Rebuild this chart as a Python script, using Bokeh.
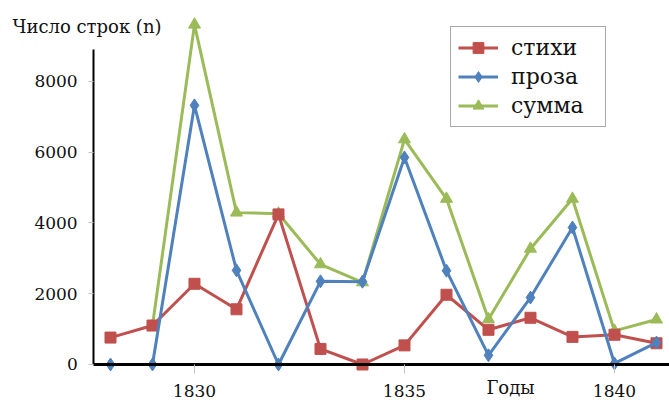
import numpy as np
from bokeh.plotting import figure
from bokeh.models import Range1d, FixedTicker, Label, Legend, LegendItem
from bokeh.embed import file_html
from bokeh.resources import INLINE

# ---- data ----
years = list(range(1828, 1842))
verse = [760, 1100, 2280, 1560, 4240, 440, 0, 540, 1970, 980, 1320, 780, 840, 600]
prose = [0, 0, 7320, 2660, 0, 2350, 2340, 5850, 2650, 260, 1890, 3870, 30, 620]
total = [None, 1100, 9600, 4290, 4260, 2830, 2320, 6360, 4680, 1280, 3270, 4680, 950, 1270]
series_names = ["стихи", "проза", "сумма"]
x_ticks = [1830, 1835, 1840]
y_ticks = [0, 2000, 4000, 6000, 8000]
y_title = "Число строк (n)"
x_title = "Годы"

# axis extents (where the drawn axis lines start / stop)
x_axis_start, x_axis_end = 1827.6, 1841.31
y_axis_top = 8900

FONT = "DejaVu Serif"
RED, BLUE, GREEN = "#C0504D", "#4F81BD", "#9BBB59"

# frame covers the whole canvas; axes are placed with fixed_location
p = figure(width=669, height=400, output_backend="svg", toolbar_location=None,
           x_range=Range1d(1825.381, x_axis_end), y_range=Range1d(-1017, 10282),
           min_border=0, min_border_left=0, min_border_right=0,
           min_border_top=0, min_border_bottom=0)
p.outline_line_color = None
p.xgrid.visible = False
p.ygrid.visible = False
p.background_fill_color = "white"
p.border_fill_color = "white"

tot = np.array([np.nan if v is None else v for v in total], dtype=float)

g_line = p.line(years, tot, line_color=GREEN, line_width=3)
g_pts = p.scatter(years, tot, marker="triangle", size=12, fill_color=GREEN, line_color=GREEN)
r_line = p.line(years, verse, line_color=RED, line_width=3)
r_pts = p.scatter(years, verse, marker="square", size=11, fill_color=RED, line_color=RED)
b_line = p.line(years, prose, line_color=BLUE, line_width=3)
b_pts = p.scatter(years, prose, marker="diamond", size=13, fill_color=BLUE, line_color=BLUE)

for ax in (p.xaxis, p.yaxis):
    ax.axis_line_color = "black"
    ax.major_tick_in = 0
    ax.major_tick_line_color = "#c4c4c4"
    ax.minor_tick_line_color = None
    ax.major_label_text_font = FONT
    ax.major_label_text_font_size = "17px"
    ax.major_label_text_color = "#111111"

p.xaxis.ticker = FixedTicker(ticks=x_ticks)
p.yaxis.ticker = FixedTicker(ticks=y_ticks)
p.xaxis.axis_line_width = 3
p.yaxis.axis_line_width = 2
p.xaxis.fixed_location = 0
p.yaxis.fixed_location = x_axis_start
p.xaxis.bounds = (x_axis_start, x_axis_end)
p.yaxis.bounds = (0, y_axis_top)
p.xaxis.major_tick_out = 9
p.yaxis.major_tick_out = 5
p.xaxis.major_label_standoff = 12
p.yaxis.major_label_standoff = 11

p.add_layout(Label(x=12, y=26, x_units="canvas", y_units="canvas", text=y_title,
                   text_font=FONT, text_font_size="18px", text_baseline="middle",
                   text_color="#111111"))
p.add_layout(Label(x=510, y=387, x_units="canvas", y_units="canvas", text=x_title,
                   text_font=FONT, text_font_size="18px", text_baseline="middle",
                   text_align="center", text_color="#111111"))

legend = Legend(items=[
    LegendItem(label=series_names[0], renderers=[r_line, r_pts]),
    LegendItem(label=series_names[1], renderers=[b_line, b_pts]),
    LegendItem(label=series_names[2], renderers=[g_line, g_pts]),
], location=(450, 273))
legend.label_text_font = FONT
legend.label_text_font_size = "22px"
legend.label_text_color = "#111111"
legend.border_line_color = "#555555"
legend.border_line_width = 1.5
legend.background_fill_color = "white"
legend.background_fill_alpha = 1
legend.padding = 7
legend.spacing = 2
legend.glyph_width = 40
legend.glyph_height = 27
legend.label_height = 27
legend.label_width = 87
legend.label_standoff = 13
legend.margin = 0
p.add_layout(legend, "center")

open("out.html", "w").write(file_html(p, INLINE))
